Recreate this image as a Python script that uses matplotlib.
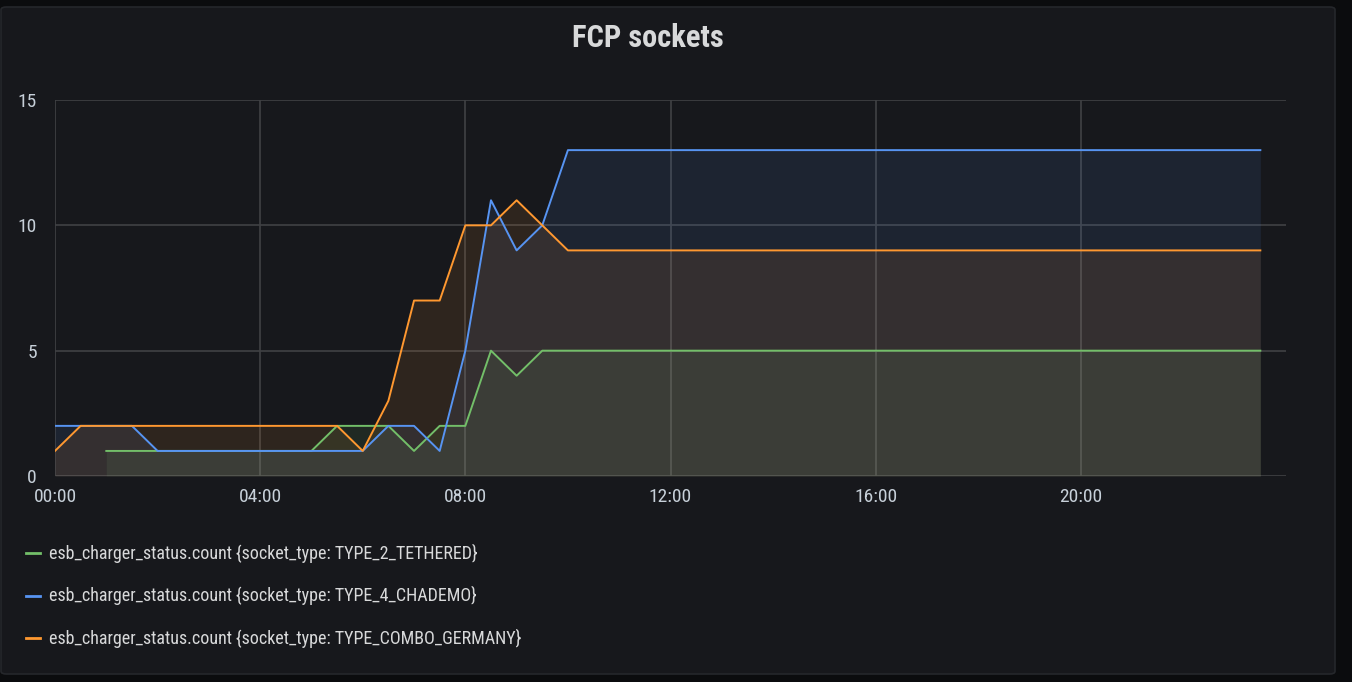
import numpy as np
import matplotlib.pyplot as plt
from matplotlib.patches import FancyBboxPatch

plt.rcParams['font.family'] = ['Roboto Condensed', 'Roboto', 'DejaVu Sans']

# half-hourly samples over one day (hours since midnight)
times = np.arange(0, 24, 0.5)
tethered_times = times[2:]  # TYPE_2_TETHERED has no data before 01:00

tethered = [1, 1, 1, 1, 1, 1, 1, 1, 1,
            2, 2, 2, 1, 2, 2, 5, 4, 5,
            5, 5, 5, 5, 5, 5, 5, 5, 5, 5, 5, 5, 5, 5,
            5, 5, 5, 5, 5, 5, 5, 5, 5, 5, 5, 5, 5, 5]
chademo = [2, 2, 2, 2,
           1, 1, 1, 1, 1, 1, 1, 1, 1,
           2, 2, 1, 5, 11, 9, 10,
           13, 13, 13, 13, 13, 13, 13, 13, 13, 13, 13, 13, 13, 13,
           13, 13, 13, 13, 13, 13, 13, 13, 13, 13, 13, 13, 13, 13]
combo = [1,
         2, 2, 2, 2, 2, 2, 2, 2, 2, 2, 2,
         1, 3, 7, 7, 10, 10, 11, 10,
         9, 9, 9, 9, 9, 9, 9, 9, 9, 9, 9, 9, 9, 9,
         9, 9, 9, 9, 9, 9, 9, 9, 9, 9, 9, 9, 9, 9]

labels = ["esb_charger_status.count {socket_type: TYPE_2_TETHERED}",
          "esb_charger_status.count {socket_type: TYPE_4_CHADEMO}",
          "esb_charger_status.count {socket_type: TYPE_COMBO_GERMANY}"]
colors = ["#73BF69", "#5794F2", "#FF9830"]

x_ticks = [0, 4, 8, 12, 16, 20]
x_ticklabels = ["00:00", "04:00", "08:00", "12:00", "16:00", "20:00"]
y_ticks = [0, 5, 10, 15]

W, H = 1352, 682
fig = plt.figure(figsize=(W / 100, H / 100), dpi=100)
fig.patch.set_facecolor("#0b0c0e")

panel = FancyBboxPatch((1 / W, 8 / H), 1334 / W, 667 / H,
                       boxstyle="round,pad=0,rounding_size=0.004",
                       transform=fig.transFigure, facecolor="#17181c",
                       edgecolor="#25272b", linewidth=1.2, zorder=-5)
fig.patches.append(panel)

ax = fig.add_axes([55 / W, 1 - 476 / H, (1286 - 55) / W, (476 - 100) / H],
                  zorder=2)
ax.set_facecolor("none")

series = [(tethered_times, tethered), (times, chademo), (times, combo)]
for (t, v), c in zip(series, colors):
    ax.fill_between(t, 0, v, color=c, alpha=0.1, linewidth=0, zorder=2)
for (t, v), c in zip(series, colors):
    ax.plot(t, v, color=c, linewidth=1.4, zorder=3)

ax.set_xlim(0, 24)
ax.set_ylim(0, 15)
ax.set_xticks(x_ticks)
ax.set_xticklabels(x_ticklabels)
ax.set_yticks(y_ticks)
ax.grid(True, color="#404144", linewidth=1.2, zorder=1)
ax.set_axisbelow(True)
for s in ax.spines.values():
    s.set_visible(False)
ax.tick_params(length=0, colors="#c7d0d9", labelsize=14, pad=13)
ax.tick_params(axis="x", pad=9)

fig.text(648 / W, 1 - 38 / H, "FCP sockets", ha="center", va="center",
         color="#d8d9da", fontsize=22, fontweight="bold")

for i, (lab, c) in enumerate(zip(labels, colors)):
    y = 1 - (553 + i * 42.5) / H
    fig.add_artist(plt.Line2D([26 / W, 40 / W], [y, y], color=c, linewidth=2,
                              transform=fig.transFigure))
    fig.text(49 / W, y, lab, ha="left", va="center", color="#d8d9da",
             fontsize=13)

fig.savefig("out.png", dpi=100, facecolor=fig.get_facecolor())
